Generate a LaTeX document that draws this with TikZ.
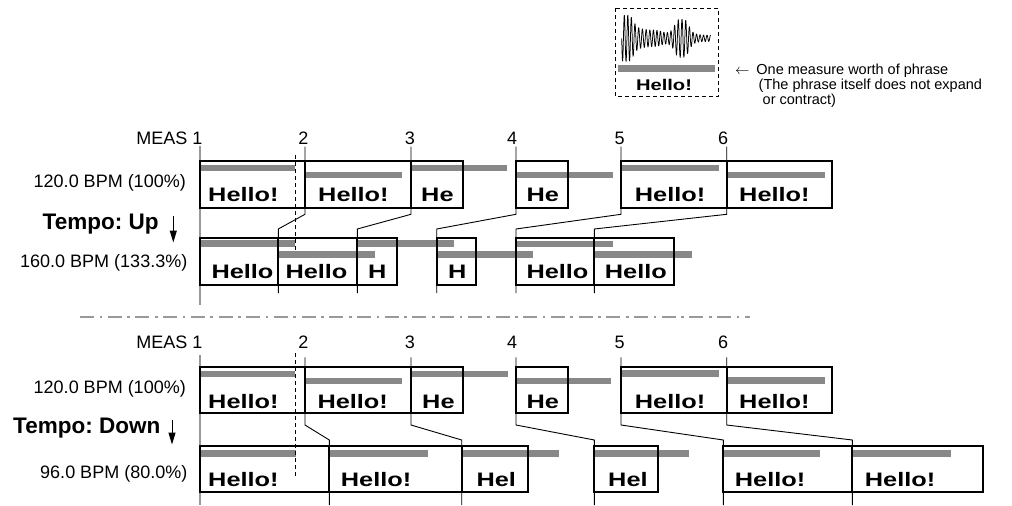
\documentclass[tikz,border=0pt]{standalone}
\usepackage{fontspec}
\setmainfont{Liberation Sans}
\usepackage{graphicx}
\usetikzlibrary{arrows.meta}
\definecolor{bargray}{HTML}{888888}
\definecolor{linegray}{HTML}{999999}
\frenchspacing
\tikzset{
  pbox/.style={draw=black, line width=2pt},
  pbar/.style={fill=bargray, draw=none},
  mline/.style={draw=black, line width=0.9pt},
  gline/.style={draw=linegray, line width=2pt},
  dline/.style={draw=black, line width=0.8pt, dash pattern=on 4pt off 3pt},
  lbl/.style={font=\fontsize{18}{20}\selectfont, inner sep=0pt},
  tempo/.style={font=\fontsize{22.5}{24}\selectfont\bfseries, inner sep=0pt, anchor=base west},
  hello/.style={font=\fontsize{19.5}{20}\selectfont\bfseries, inner sep=0pt, anchor=base west},
  note/.style={font=\fontsize{14.5}{15}\selectfont, inner sep=0pt, anchor=base west},
  tarrow/.style={line width=1pt, -{Triangle[length=12pt,width=7pt]}},
}
\newcommand\PBar[3]{\fill[pbar] (#1,{#3-3.3}) rectangle (#2,{#3+3.3});}
\newcommand\PBox[4]{\draw[pbox] (#1,#3) rectangle (#2,#4);}
\newcommand\HelloTxt[4]{\node[hello] (#1) at (#2,#3) {\scalebox{1.3}[1]{#4}};}
\begin{document}
\begin{tikzpicture}[x=1pt,y=-1pt]
\useasboundingbox (0,0) rectangle (1012,506);

% ---------- legend ----------
\draw[line width=1pt, dash pattern=on 4pt off 3pt] (615.7,8.3) rectangle (718.3,96.7);
\draw[line width=0.75pt, line join=round]
  plot[domain=0:89, samples=360]
  ({621.7+\x}, {38.3 + (3 + 20/(1+((\x-3)/10)^4) + 5/(1+((\x-28)/14)^4) + 16/(1+((\x-60)/8)^4))*sin(\x*100 + 25*sin(\x*9))});
\fill[bargray] (618.3,65) rectangle (715,71.7);
\node[font=\fontsize{15.5}{16}\selectfont\bfseries, inner sep=0pt, anchor=base west] (lhello) at (635.8,90) {\scalebox{1.3}[1]{Hello!}};
\node[note] (larrow) at (735,74) {$\leftarrow$};
\node[note] (n1) at (756.2,74) {One measure worth of phrase};
\node[note] (n2) at (758.5,89.3) {(The phrase itself does not expand};
\node[note] (n3) at (762.5,104) {or contract)};

% ---------- section 1 ----------
\node[lbl, anchor=east] (m1a) at (202.7,138) {MEAS 1};
\foreach \n/\x in {2/303.3,3/410,4/512,5/619.5,6/723}
  \node[lbl] (ma\n) at (\x,138) {\n};
\node[lbl, anchor=base east] (bpm1) at (186,187.7) {120.0 BPM (100\%)};
\node[tempo] (tup) at (42.5,229) {Tempo: Up};
\coordinate (tupa) at (173.3,216);
\coordinate (tupb) at (173.3,242.5);
\draw[tarrow] (tupa) -- (tupb);
\node[lbl, anchor=base east] (bpm2) at (187.5,267.3) {160.0 BPM (133.3\%)};

\draw[gline] (200,146) -- (200,305);

% bars row A
\PBar{200}{295}{168}
\PBar{305}{401.7}{175}
\PBar{411}{506.7}{168}
\PBar{516}{613.3}{175}
\PBar{621}{719}{168}
\PBar{726.7}{825}{175}
% bars row B
\PBar{200}{295}{243.5}
\PBar{278.3}{375}{254.5}
\PBar{357.3}{454}{243.5}
\PBar{436.7}{533.3}{254.5}
\PBar{516}{613}{244}
\PBar{594.3}{691.7}{254.5}

% connectors
\foreach \i/\xa/\xb in {2/305/278.3,3/411/357.3,4/516/436.7,5/621/516,6/726.7/594.3}{
  \coordinate (sa\i) at (\xa,146.7);
  \coordinate (se\i) at (\xa,214.3);
  \coordinate (sb\i) at (\xb,229);
  \coordinate (sd\i) at (\xb,293);
  \draw[mline] (sa\i) -- (se\i) -- (sb\i) -- (sd\i);
}

% boxes row A
\PBox{200}{305}{161}{207.7}
\PBox{305}{411}{161}{207.7}
\PBox{411}{462.7}{161}{207.7}
\PBox{516}{568.3}{161}{207.7}
\PBox{621}{726.7}{161}{207.7}
\PBox{726.7}{831.7}{161}{207.7}
% boxes row B
\PBox{200}{278.3}{238.3}{285}
\PBox{278.3}{357.3}{238.3}{285}
\PBox{357.3}{396.7}{238.3}{285}
\PBox{436.7}{476}{238.3}{285}
\PBox{516}{594.3}{238.3}{285}
\PBox{594.3}{674}{238.3}{285}

% texts row A
\HelloTxt{ta1}{208}{201}{Hello!}
\HelloTxt{ta2}{318}{201}{Hello!}
\HelloTxt{ta3}{421}{201}{He}
\HelloTxt{ta4}{526.3}{201}{He}
\HelloTxt{ta5}{634.7}{201}{Hello!}
\HelloTxt{ta6}{739}{201}{Hello!}
% texts row B
\HelloTxt{tb1}{211.3}{278.3}{Hello}
\HelloTxt{tb2}{285.3}{278.3}{Hello}
\HelloTxt{tb3}{368}{278.3}{H}
\HelloTxt{tb4}{448}{278.3}{H}
\HelloTxt{tb5}{526.3}{278.3}{Hello}
\HelloTxt{tb6}{604.7}{278.3}{Hello}

\draw[dline] (295.7,155) -- (295.7,252);

% ---------- separator ----------
\draw[linegray, line width=2pt, dash pattern=on 14pt off 5.5pt on 2.7pt off 5.5pt] (80,316.7) -- (750,316.7);

% ---------- section 2 ----------
\node[lbl, anchor=east] (m1b) at (202.7,342.5) {MEAS 1};
\foreach \n/\x in {2/303.3,3/410,4/512,5/619.5,6/723}
  \node[lbl] (mb\n) at (\x,342.5) {\n};
\node[lbl, anchor=base east] (bpm3) at (186,393.5) {120.0 BPM (100\%)};
\node[tempo] (tdown) at (13,433.3) {Tempo: Down};
\coordinate (tdna) at (172,420);
\coordinate (tdnb) at (172,444.5);
\draw[tarrow] (tdna) -- (tdnb);
\node[lbl, anchor=base east] (bpm4) at (187.5,478.3) {96.0 BPM (80.0\%)};

\draw[gline] (200,355) -- (200,505);

% bars row A'
\PBar{200}{295}{374}
\PBar{305}{401.7}{381}
\PBar{411}{508.3}{374}
\PBar{516}{610.7}{381}
\PBar{621}{719}{373.5}
\PBar{726.7}{825}{380.7}
% bars row C
\PBar{200}{295.7}{453.3}
\PBar{329.3}{427.7}{453.3}
\PBar{461.7}{559}{453.3}
\PBar{594.3}{689.3}{453.3}
\PBar{723.3}{820}{453.3}
\PBar{852.3}{950.7}{453.3}

% connectors
\foreach \i/\xa/\xc in {2/305/329.3,3/411/461.7,4/516/594.3,5/621/723.3,6/726.7/852.3}{
  \coordinate (ta\i) at (\xa,357.3);
  \coordinate (te\i) at (\xa,425);
  \coordinate (tc\i) at (\xc,440);
  \coordinate (td\i) at (\xc,505);
  \draw[mline] (ta\i) -- (te\i) -- (tc\i) -- (td\i);
}

% boxes row A'
\PBox{200}{305}{366.7}{413.3}
\PBox{305}{411}{366.7}{413.3}
\PBox{411}{462.7}{366.7}{413.3}
\PBox{516}{568.3}{366.7}{413.3}
\PBox{621}{726.7}{366.7}{413.3}
\PBox{726.7}{831.7}{366.7}{413.3}
% boxes row C
\PBox{200}{329.3}{445.7}{492.3}
\PBox{329.3}{461.7}{445.7}{492.3}
\PBox{461.7}{527.7}{445.7}{492.3}
\PBox{594.3}{657.7}{445.7}{492.3}
\PBox{723.3}{852.3}{445.7}{492.3}
\PBox{852.3}{982.7}{445.7}{492.3}

% texts row A'
\HelloTxt{tc1}{208}{408}{Hello!}
\HelloTxt{tc2}{317.3}{408}{Hello!}
\HelloTxt{tc3}{422}{408}{He}
\HelloTxt{tc4}{526.3}{408}{He}
\HelloTxt{tc5}{634.7}{408}{Hello!}
\HelloTxt{tc6}{739}{408}{Hello!}
% texts row C
\HelloTxt{td1}{208}{486.5}{Hello!}
\HelloTxt{td2}{340.7}{486.5}{Hello!}
\HelloTxt{td3}{476.3}{486.5}{Hel}
\HelloTxt{td4}{608}{486.5}{Hel}
\HelloTxt{td5}{734.7}{486.5}{Hello!}
\HelloTxt{td6}{864.7}{486.5}{Hello!}

\draw[dline] (295.7,353) -- (295.7,476.7);
\end{tikzpicture}
\end{document}
